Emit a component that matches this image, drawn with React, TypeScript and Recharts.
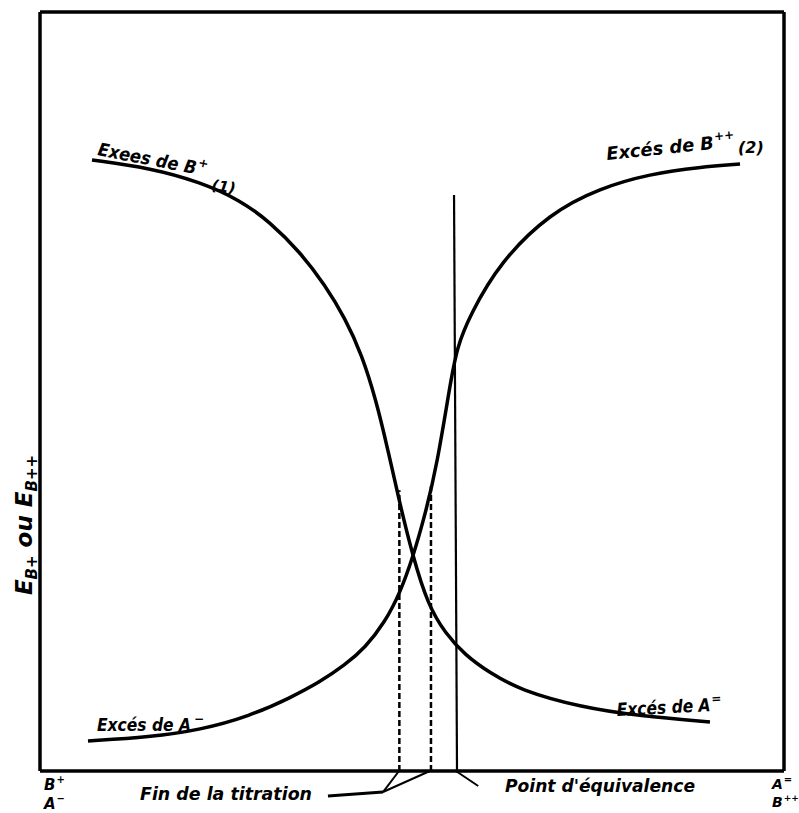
import React from 'react';
import { ComposedChart, Line, XAxis, YAxis, ReferenceLine, Customized } from 'recharts';

// Curve (1): Excès de B+ (decreasing)
const curve1X = [6.99, 14.78, 21.51, 26.88, 30.91, 34.95, 38.31, 40.99, 43.28, 45.16, 46.77, 48.25, 50.13, 52.15, 54.44, 57.12, 60.48, 64.52, 72.58, 80.65, 90.05];
const curve1Y = [80.5, 79.45, 77.6, 75.23, 72.33, 68.38, 64.03, 59.68, 54.81, 48.88, 42.29, 35.7, 28.19, 21.87, 18.18, 15.28, 12.91, 10.67, 8.43, 7.25, 6.46];

// Curve (2): Excès de B++ (increasing)
const curve2X = [6.45, 14.78, 21.51, 28.23, 33.6, 37.63, 40.99, 43.68, 46.37, 48.39, 50.13, 51.75, 53.36, 55.11, 56.05, 57.8, 61.83, 68.55, 75.27, 81.99, 88.71, 94.09];
const curve2Y = [3.95, 4.48, 5.4, 7.25, 9.62, 11.73, 13.97, 16.21, 19.63, 23.45, 28.19, 33.73, 40.32, 50.86, 55.86, 60.08, 67.06, 73.52, 76.81, 78.66, 79.58, 79.97];

// Markers
const finTitrationX = [48.3, 52.55];
const finTitrationTop = [37.0, 37.8];
const equivalenceTopX = 55.65;
const equivalenceBottomX = 56.05;
const equivalenceTopY = 75.9;

const curve1 = curve1X.map((x, i) => ({ x, y: curve1Y[i] }));
const curve2 = curve2X.map((x, i) => ({ x, y: curve2Y[i] }));

const FONT = '"DejaVu Sans", "Liberation Sans", sans-serif';

function T({ x, y, rot = 0, main, sup, size = 17, len, supSize = 12, supDx = 1 }: any) {
  return (
    <text
      x={x}
      y={y}
      transform={rot ? `rotate(${rot}, ${x}, ${y})` : undefined}
      fontFamily={FONT}
      fontStyle="italic"
      fontWeight="bold"
      fontSize={size}
      fill="#000"
    >
      <tspan textLength={len} lengthAdjust={len ? 'spacingAndGlyphs' : undefined}>{main}</tspan>
      {sup ? <tspan dx={supDx} dy={-size * 0.45} fontSize={supSize}>{sup}</tspan> : null}
    </text>
  );
}

function Labels() {
  return (
    <g>
      <T x={97} y={155} rot={11} main="Exees de B" sup="+" len={100} size={18} />
      <T x={211} y={190} rot={8} main="(1)" size={15} />
      <T x={607} y={160} rot={-6} main="Excés de B" sup="++" len={108} size={18} />
      <T x={738} y={153} main="(2)" size={16} />
      <T x={97} y={731} main="Excés de A" sup="−" len={94} size={18} supDx={3} />
      <T x={617} y={716} rot={-3} main="Excés de A" sup="=" len={94} size={18} />
      <T x={140} y={800} main="Fin de la titration" len={172} size={18} />
      <T x={505} y={792} main="Point d'équivalence" len={190} size={18} />
      <T x={44} y={790} main="B" sup="+" size={15} supSize={10} />
      <T x={44} y={809} main="A" sup="−" size={15} supSize={10} />
      <T x={772} y={789} main="A" sup="=" size={14} supSize={10} />
      <T x={772} y={807} main="B" sup="++" size={14} supSize={9} />
      <text
        x={32}
        y={525}
        transform="rotate(-90, 32, 525)"
        textAnchor="middle"
        fontFamily={FONT}
        fontStyle="italic"
        fontWeight="bold"
        fontSize={23}
        fill="#000"
      >
        <tspan>E</tspan>
        <tspan dy={5} fontSize={15}>B+</tspan>
        <tspan dy={-5}> ou </tspan>
        <tspan>E</tspan>
        <tspan dy={5} fontSize={15}>B++</tspan>
      </text>
    </g>
  );
}

export default function App() {
  return (
    <div style={{ position: 'absolute', left: 0, top: 0, width: 799, height: 813, background: '#fff' }}>
      <ComposedChart
        width={799}
        height={813}
        margin={{ top: 12, right: 15, bottom: 42, left: 40 }}
        style={{ overflow: 'visible' }}
      >
        <XAxis type="number" dataKey="x" domain={[0, 100]} hide allowDataOverflow />
        <YAxis type="number" dataKey="y" domain={[0, 100]} hide allowDataOverflow />
        {/* frame */}
        <ReferenceLine x={0} stroke="#000" strokeWidth={3.5} ifOverflow="visible" />
        <ReferenceLine x={100} stroke="#000" strokeWidth={3.5} ifOverflow="visible" />
        <ReferenceLine y={0} stroke="#000" strokeWidth={3.5} ifOverflow="visible" />
        <ReferenceLine y={100} stroke="#000" strokeWidth={3.5} ifOverflow="visible" />
        {/* end of titration (dashed) */}
        {finTitrationX.map((fx, i) => (
          <ReferenceLine
            key={'d' + i}
            segment={[{ x: fx, y: 0 }, { x: fx, y: finTitrationTop[i] }]}
            stroke="#000"
            strokeWidth={2.5}
            strokeDasharray="6 3"
            ifOverflow="visible"
          />
        ))}
        {/* equivalence point */}
        <ReferenceLine
          segment={[{ x: equivalenceBottomX, y: 0 }, { x: equivalenceTopX, y: equivalenceTopY }]}
          stroke="#000"
          strokeWidth={2.2}
          ifOverflow="visible"
        />
        {/* leader lines below axis */}
        <ReferenceLine segment={[{ x: 48.25, y: 0 }, { x: 46.1, y: -2.77 }]} stroke="#000" strokeWidth={2} ifOverflow="visible" />
        <ReferenceLine segment={[{ x: 52.4, y: 0 }, { x: 46.1, y: -2.77 }]} stroke="#000" strokeWidth={2} ifOverflow="visible" />
        <ReferenceLine segment={[{ x: 46.1, y: -2.77 }, { x: 38.7, y: -3.3 }]} stroke="#000" strokeWidth={3} ifOverflow="visible" />
        <ReferenceLine segment={[{ x: 55.9, y: 0 }, { x: 58.9, y: -1.98 }]} stroke="#000" strokeWidth={2} ifOverflow="visible" />
        <Line data={curve1} dataKey="y" type="basis" stroke="#000" strokeWidth={3.5} dot={false} isAnimationActive={false} />
        <Line data={curve2} dataKey="y" type="basis" stroke="#000" strokeWidth={3.5} dot={false} isAnimationActive={false} />
        <Customized component={Labels} />
      </ComposedChart>
    </div>
  );
}
